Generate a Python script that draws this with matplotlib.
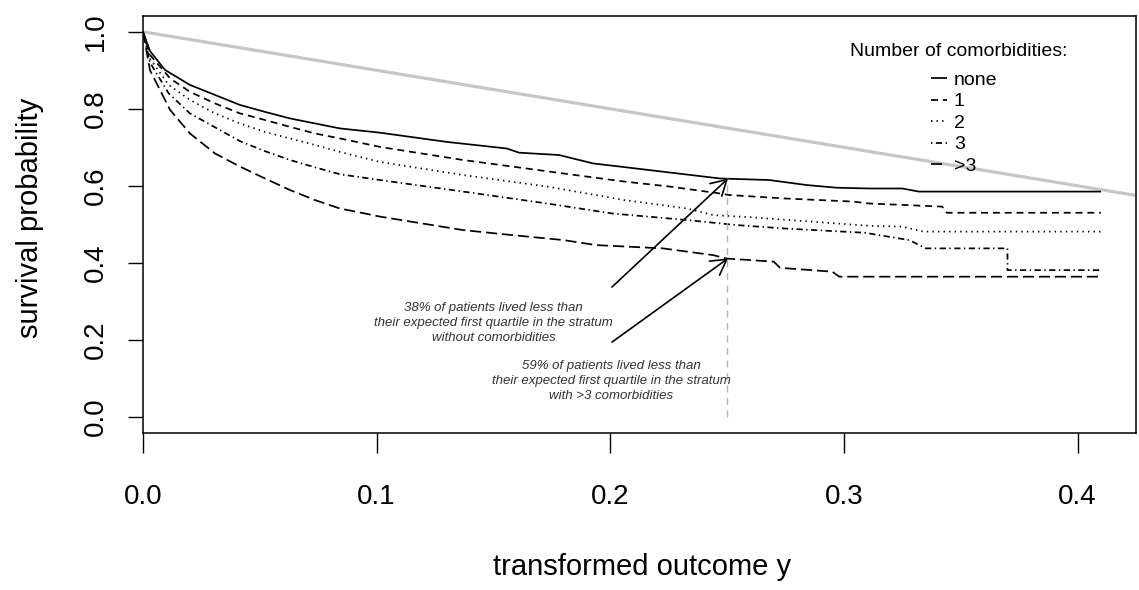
import matplotlib
matplotlib.use("Agg")
import matplotlib.pyplot as plt
from matplotlib.lines import Line2D
from matplotlib.ticker import FormatStrFormatter
import numpy as np

plt.rcParams['font.family'] = ['Liberation Sans', 'DejaVu Sans']
plt.rcParams['lines.scale_dashes'] = False

# survival curves (x = transformed outcome y)
none_x = [0, 0.003, 0.0094, 0.0201, 0.0308, 0.0415, 0.0522, 0.0629, 0.0736, 0.0843, 0.1014,
          0.130, 0.1556, 0.161, 0.178, 0.1927, 0.204, 0.247, 0.268, 0.284, 0.297, 0.311,
          0.325, 0.332, 0.41]
none_y = [1.0, 0.95, 0.901, 0.862, 0.836, 0.810, 0.792, 0.775, 0.762, 0.749, 0.738,
          0.714, 0.697, 0.686, 0.680, 0.658, 0.650, 0.619, 0.615, 0.602, 0.595, 0.593,
          0.593, 0.585, 0.585]

one_x = [0, 0.003, 0.0116, 0.0201, 0.0308, 0.0415, 0.0522, 0.0629, 0.0736, 0.0843, 0.1014,
         0.137, 0.158, 0.180, 0.206, 0.2255, 0.247, 0.251, 0.275, 0.304, 0.311, 0.342,
         0.344, 0.41]
one_y = [1.0, 0.94, 0.879, 0.844, 0.814, 0.788, 0.771, 0.753, 0.736, 0.723, 0.701,
         0.667, 0.650, 0.632, 0.611, 0.598, 0.580, 0.576, 0.567, 0.559, 0.554, 0.546,
         0.530, 0.530]

two_x = [0, 0.003, 0.011, 0.0201, 0.0308, 0.0415, 0.0522, 0.0629, 0.0736, 0.0843, 0.1014,
         0.137, 0.173, 0.206, 0.233, 0.244, 0.261, 0.311, 0.325, 0.334, 0.41]
two_y = [1.0, 0.93, 0.862, 0.823, 0.788, 0.762, 0.740, 0.723, 0.706, 0.688, 0.662,
         0.628, 0.598, 0.563, 0.541, 0.524, 0.518, 0.496, 0.494, 0.481, 0.481]

three_x = [0, 0.003, 0.011, 0.0201, 0.0308, 0.0415, 0.0522, 0.0629, 0.0736, 0.0843, 0.1014,
           0.137, 0.173, 0.201, 0.233, 0.254, 0.275, 0.309, 0.328, 0.335, 0.370, 0.370, 0.41]
three_y = [1.0, 0.92, 0.84, 0.788, 0.752, 0.716, 0.690, 0.667, 0.648, 0.630, 0.615,
           0.585, 0.554, 0.528, 0.511, 0.498, 0.489, 0.478, 0.459, 0.4375, 0.4375, 0.381, 0.381]

more_x = [0, 0.003, 0.0116, 0.0201, 0.0308, 0.0415, 0.0522, 0.0629, 0.0736, 0.0843, 0.095,
          0.1014, 0.137, 0.158, 0.180, 0.194, 0.2225, 0.244, 0.25, 0.270, 0.2726, 0.295,
          0.298, 0.41]
more_y = [1.0, 0.90, 0.797, 0.736, 0.684, 0.650, 0.619, 0.589, 0.563, 0.541, 0.528,
          0.520, 0.485, 0.472, 0.459, 0.446, 0.4375, 0.420, 0.411, 0.403, 0.387, 0.377,
          0.364, 0.364]

# reference line (expected survival)
ref_x = [0.0, 0.45]
ref_y = [1.0, 0.55]

quartile_x = 0.25
quartile_top = 0.62

# annotation arrows: tail -> head
arrow_tail = [(0.2007, 0.337), (0.2007, 0.194)]
arrow_head = [(0.2504, 0.619), (0.2504, 0.4115)]

note_none = "38% of patients lived less than\ntheir expected first quartile in the stratum\nwithout comorbidities"
note_more = "59% of patients lived less than\ntheir expected first quartile in the stratum\nwith >3 comorbidities"
note_pos = [(0.150, 0.243), (0.2005, 0.093)]

labels = ["none", "1", "2", "3", ">3"]
styles = [(0, ()), (0, (5, 3.5)), (0, (1, 3)), (0, (1, 2.5, 4.5, 2.5)), (0, (8, 3.5))]

fig = plt.figure(figsize=(11.39, 5.90), dpi=100)
ax = fig.add_axes([143 / 1139, 1 - 433 / 590, 993 / 1139, 417 / 590])

ax.plot(ref_x, ref_y, color='#c6c6c6', lw=2.3, solid_capstyle='butt')

series = [(none_x, none_y), (one_x, one_y), (two_x, two_y), (three_x, three_y), (more_x, more_y)]
handles = []
for (xs, ys), ls in zip(series, styles):
    ax.plot(xs, ys, color='black', lw=1.25, linestyle=ls)
    handles.append(Line2D([], [], color='black', lw=1.25, linestyle=ls))

ax.plot([quartile_x, quartile_x], [0, quartile_top], color='#b5b5b5', lw=1.0,
        linestyle=(0, (5, 4)))

for t, h in zip(arrow_tail, arrow_head):
    ax.annotate('', xy=h, xytext=t,
                arrowprops=dict(arrowstyle='->,head_length=0.4,head_width=0.23',
                                lw=1.2, color='black', mutation_scale=27,
                                shrinkA=0, shrinkB=0))

for txt, (px, py) in zip([note_none, note_more], note_pos):
    ax.text(px, py, txt, ha='center', va='center', fontsize=9.5, style='italic',
            color='#333333', linespacing=1.35)

# legend: title drawn on its own, entries below it
ax.text(0.822, 0.9144, "Number of comorbidities:", transform=ax.transAxes,
        ha='center', va='center', fontsize=14)
ax.legend(handles, labels, loc='upper left', bbox_to_anchor=(0.794, 0.8675),
          frameon=False, fontsize=14, handlelength=0.8, handletextpad=0.35,
          labelspacing=0.2, borderpad=0, borderaxespad=0)

ax.set_xlim(0, 0.425)
ax.set_ylim(-0.042, 1.041)
ax.set_xticks([0.0, 0.1, 0.2, 0.3, 0.4])
ax.set_yticks([0.0, 0.2, 0.4, 0.6, 0.8, 1.0])
ax.xaxis.set_major_formatter(FormatStrFormatter('%.1f'))
ax.yaxis.set_major_formatter(FormatStrFormatter('%.1f'))
ax.tick_params(axis='x', length=14.4, width=1.0, pad=22, labelsize=20)
ax.tick_params(axis='y', length=10.8, width=1.0, pad=14, labelsize=20, labelrotation=90)
for lab in ax.get_yticklabels():
    lab.set_va('center')
for sp in ax.spines.values():
    sp.set_linewidth(1.1)

ax.set_xlabel("transformed outcome y", fontsize=21)
ax.set_ylabel("survival probability", fontsize=21)
ax.xaxis.set_label_coords(0.503, -0.321)
ax.xaxis.label.set_va('center')
ax.yaxis.set_label_coords(-0.1138, 0.516)
ax.yaxis.label.set_va('center')

fig.savefig('out.png', dpi=100)
